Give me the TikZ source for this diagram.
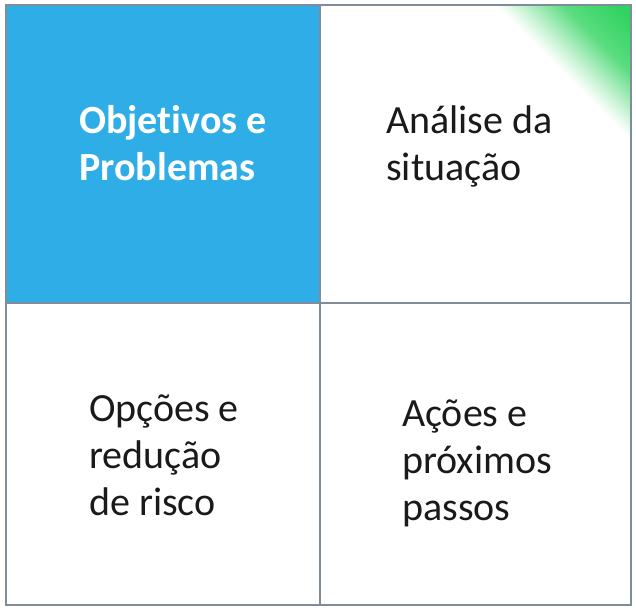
\documentclass[tikz,border=0pt]{standalone}
\usepackage{fontspec}
\setmainfont{Carlito}[Ligatures=NoCommon]
\definecolor{cblue}{HTML}{2EADE6}
\definecolor{cgreen}{HTML}{2FD35F}
\definecolor{cline}{HTML}{7F8C99}
\definecolor{ctext}{HTML}{1A1A1A}
\pgfdeclarehorizontalshading{gfade}{100bp}{color(0bp)=(white); color(50bp)=(white); color(57bp)=(cgreen!30); color(68bp)=(cgreen!80); color(82bp)=(cgreen); color(100bp)=(cgreen)}
\tikzset{
  celltext/.style={anchor=base west, inner sep=0pt, align=left, font=\fontsize{40}{47}\selectfont, text=ctext},
  headtext/.style={celltext, text=white, font=\fontsize{40}{47}\selectfont\bfseries},
  gridline/.style={draw=cline, line width=1.5pt}
}
\begin{document}
\begin{tikzpicture}[x=1pt,y=-1pt]
\useasboundingbox[fill=white] (0,0) rectangle (636,611);
\fill[cblue] (6,5) rectangle (320,303);
\shade[shading=gfade, shading angle=45] (496,5) -- (631,5) -- (631,140) -- cycle;
\coordinate (tl) at (6,5);
\coordinate (tr) at (631,5);
\coordinate (br) at (631,605);
\coordinate (bl) at (6,605);
\coordinate (mt) at (320,5);
\coordinate (mb) at (320,605);
\coordinate (ml) at (6,303);
\coordinate (mr) at (631,303);
\draw[gridline] (tl) -- (tr) -- (br) -- (bl) -- cycle;
\draw[gridline] (mt) -- (mb);
\draw[gridline] (ml) -- (mr);
\node[headtext] (q1) at (79,180) {Objetivos e\\Problemas};
\node[celltext] (q2) at (386,180) {Análise da\\situação};
\node[celltext] (q3) at (89,515) {Opções e\\redução\\de risco};
\node[celltext] (q4) at (402,520) {Ações e\\próximos\\passos};
\end{tikzpicture}
\end{document}
